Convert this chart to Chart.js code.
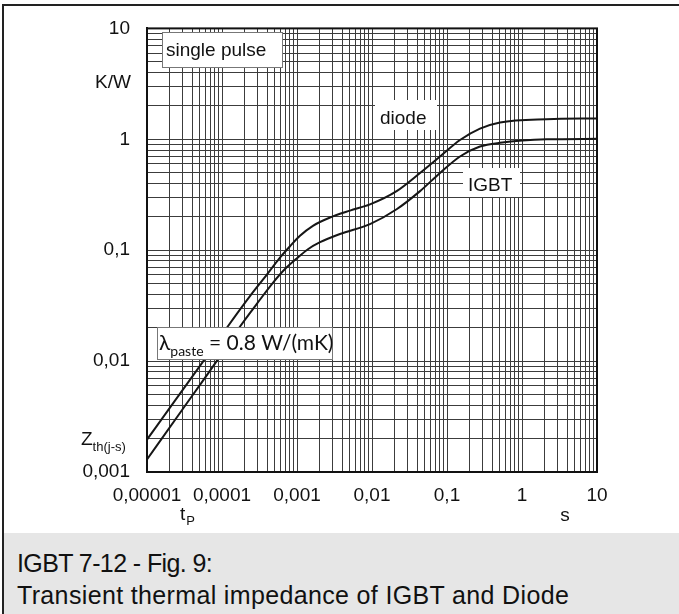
<!DOCTYPE html>
<html>
<head>
<meta charset="utf-8">
<script src="https://cdn.jsdelivr.net/npm/chart.js@4.4.0/dist/chart.umd.min.js"></script>
<style>
  body { margin: 0; background: #fff; width: 679px; height: 614px; overflow: hidden; position: relative; font-family: "Liberation Sans", Arial, sans-serif; }
  #chart { position: absolute; left: 0; top: 0; }
  #frameTop { position: absolute; left: 2px; top: 4px; width: 677px; height: 2px; background: #222; }
  #frameLeft { position: absolute; left: 2px; top: 4px; width: 2px; height: 610px; background: #222; }
  #caption { position: absolute; left: 4px; top: 533px; width: 675px; height: 81px; background: #e6e6e6;
             font-size: 25px; line-height: 32px; color: #111; padding: 14px 0 0 13px; box-sizing: border-box; }
  #caption span { display: block; white-space: nowrap; }
</style>
</head>
<body>
<canvas id="chart" width="679" height="533"></canvas>
<div id="frameTop"></div>
<div id="frameLeft"></div>
<div id="caption"><span style="letter-spacing:-0.6px">IGBT 7-12 - Fig. 9:</span><span style="letter-spacing:0.35px">Transient thermal impedance of IGBT and Diode</span></div>
<script>
// pulse duration t_P in s, and Zth(j-s) in K/W
const diodeTime = [1e-5, 2.36e-5, 5.58e-5, 1.167e-4, 2.36e-4, 3.94e-4, 5.93e-4, 8.07e-4, 1.096e-3, 1.63e-3, 2.75e-3, 5.09e-3, 9.4e-3, 0.0213, 0.0437, 0.0807, 0.149, 0.275, 0.509, 2.13, 10];
const diodeZth = [0.00196, 0.0044, 0.0099, 0.0201, 0.0385, 0.0598, 0.0857, 0.1086, 0.135, 0.166, 0.197, 0.2276, 0.259, 0.341, 0.497, 0.7, 0.986, 1.25, 1.42, 1.52, 1.54];

const igbtTime = [1e-5, 3e-5, 8.5e-5, 1.74e-4, 2.93e-4, 4.83e-4, 6.92e-4, 9.9e-4, 1.4e-3, 2.03e-3, 3.74e-3, 9.4e-3, 0.0213, 0.0437, 0.0807, 0.149, 0.275, 0.509, 2.13, 10];
const igbtZth = [0.0013, 0.0037, 0.01, 0.0205, 0.033, 0.0513, 0.0676, 0.084, 0.102, 0.118, 0.14, 0.172, 0.234, 0.341, 0.497, 0.7, 0.86, 0.93, 1.0, 1.01];

const xDecades = [1e-5, 1e-4, 1e-3, 1e-2, 1e-1, 1, 10];
const xLabels = ["0,00001", "0,0001", "0,001", "0,01", "0,1", "1", "10"];
const yDecades = [0.001, 0.01, 0.1, 1, 10];
const yLabels = ["0,001", "0,01", "0,1", "1", "10"];

// grid lines at 1..9 of every decade
function logTicks(decades) {
  const out = [];
  for (let i = 0; i < decades.length; i++) {
    const limit = i === decades.length - 1 ? 1 : 9;
    for (let m = 1; m <= limit; m++) out.push(+(decades[i] * m).toPrecision(3));
  }
  return out;
}

function labelFor(decades, labels, v) {
  for (let i = 0; i < decades.length; i++) {
    if (Math.abs(v / decades[i] - 1) < 1e-6) return labels[i];
  }
  return "";
}

const toPoints = (xs, ys) => xs.map((x, i) => ({ x: x, y: ys[i] }));

const FONT = '"Liberation Sans", Arial, sans-serif';

const overlay = {
  id: "overlay",
  afterDraw(chart) {
    const ctx = chart.ctx;
    const a = chart.chartArea;
    ctx.save();

    // plot frame
    ctx.strokeStyle = "#111";
    ctx.lineWidth = 2;
    ctx.strokeRect(a.left, a.top, a.right - a.left, a.bottom - a.top);

    ctx.textBaseline = "alphabetic";

    // single pulse box
    ctx.fillStyle = "#fff";
    ctx.fillRect(162, 32, 120, 35);
    ctx.strokeStyle = "#777";
    ctx.lineWidth = 1;
    ctx.strokeRect(162.5, 32.5, 120, 35);
    ctx.fillStyle = "#111";
    ctx.font = "19px " + FONT;
    ctx.fillText("single pulse", 166, 56);

    // curve labels
    ctx.fillStyle = "#fff";
    ctx.fillRect(375, 100, 62, 30);
    ctx.fillRect(463, 168, 57, 29);
    ctx.fillStyle = "#111";
    ctx.fillText("diode", 380, 124);
    ctx.fillText("IGBT", 468, 191);

    // lambda box
    ctx.fillStyle = "#fff";
    ctx.fillRect(157, 327, 175, 32);
    ctx.strokeStyle = "#777";
    ctx.strokeRect(157.5, 327.5, 175, 32);
    ctx.fillStyle = "#111";
    ctx.font = "21px Lato, sans-serif";
    ctx.fillText("\u03bb", 159, 350);
    let w = ctx.measureText("\u03bb").width;
    ctx.font = "14px Lato, sans-serif";
    ctx.fillText("paste", 159 + w, 356);
    const w2 = ctx.measureText("paste").width;
    ctx.font = "21px Lato, sans-serif";
    ctx.fillText(" = 0.8 W/(mK)", 159 + w + w2, 350);

    // axis titles
    ctx.font = "19px " + FONT;
    ctx.textAlign = "right";
    ctx.fillText("K/W", 131, 88);
    ctx.textAlign = "left";
    ctx.fillText("Z", 81, 445);
    w = ctx.measureText("Z").width;
    ctx.font = "13px " + FONT;
    ctx.fillText("th(j-s)", 81 + w, 451);

    ctx.font = "19px " + FONT;
    ctx.fillText("t", 180, 520);
    w = ctx.measureText("t").width;
    ctx.font = "13px " + FONT;
    ctx.fillText("P", 180 + w + 1, 525);
    ctx.font = "19px " + FONT;
    ctx.textAlign = "center";
    ctx.fillText("s", 565, 521);

    ctx.restore();
  }
};

new Chart(document.getElementById("chart"), {
  type: "line",
  data: {
    datasets: [
      {
        label: "diode",
        data: toPoints(diodeTime, diodeZth),
        borderColor: "#161616",
        borderWidth: 2,
        pointRadius: 0,
        cubicInterpolationMode: "monotone",
        fill: false
      },
      {
        label: "IGBT",
        data: toPoints(igbtTime, igbtZth),
        borderColor: "#161616",
        borderWidth: 2,
        pointRadius: 0,
        cubicInterpolationMode: "monotone",
        fill: false
      }
    ]
  },
  options: {
    responsive: false,
    animation: false,
    devicePixelRatio: 1,
    layout: { padding: { left: 0, right: 82, top: 24, bottom: 0 } },
    plugins: { legend: { display: false }, tooltip: { enabled: false } },
    scales: {
      x: {
        type: "logarithmic",
        min: 1e-5,
        max: 10,
        afterBuildTicks: (s) => { s.ticks = logTicks(xDecades).map((v) => ({ value: v })); },
        afterFit: (s) => { s.height = 61; },
        grid: { color: "#3c3c3c", lineWidth: 1, drawTicks: false },
        border: { display: true, color: "#111", width: 2 },
        ticks: {
          autoSkip: false,
          maxRotation: 0,
          padding: 12,
          color: "#111",
          font: { family: FONT, size: 19 },
          callback: (v) => labelFor(xDecades, xLabels, v)
        }
      },
      y: {
        type: "logarithmic",
        min: 0.001,
        max: 10,
        afterBuildTicks: (s) => { s.ticks = logTicks(yDecades).map((v) => ({ value: v })); },
        afterFit: (s) => { s.width = 147; },
        grid: { color: "#3c3c3c", lineWidth: 1, drawTicks: false },
        border: { display: true, color: "#111", width: 2 },
        ticks: {
          autoSkip: false,
          padding: 17,
          color: "#111",
          font: { family: FONT, size: 19 },
          callback: (v) => labelFor(yDecades, yLabels, v)
        }
      }
    }
  },
  plugins: [overlay]
});
</script>
</body>
</html>
